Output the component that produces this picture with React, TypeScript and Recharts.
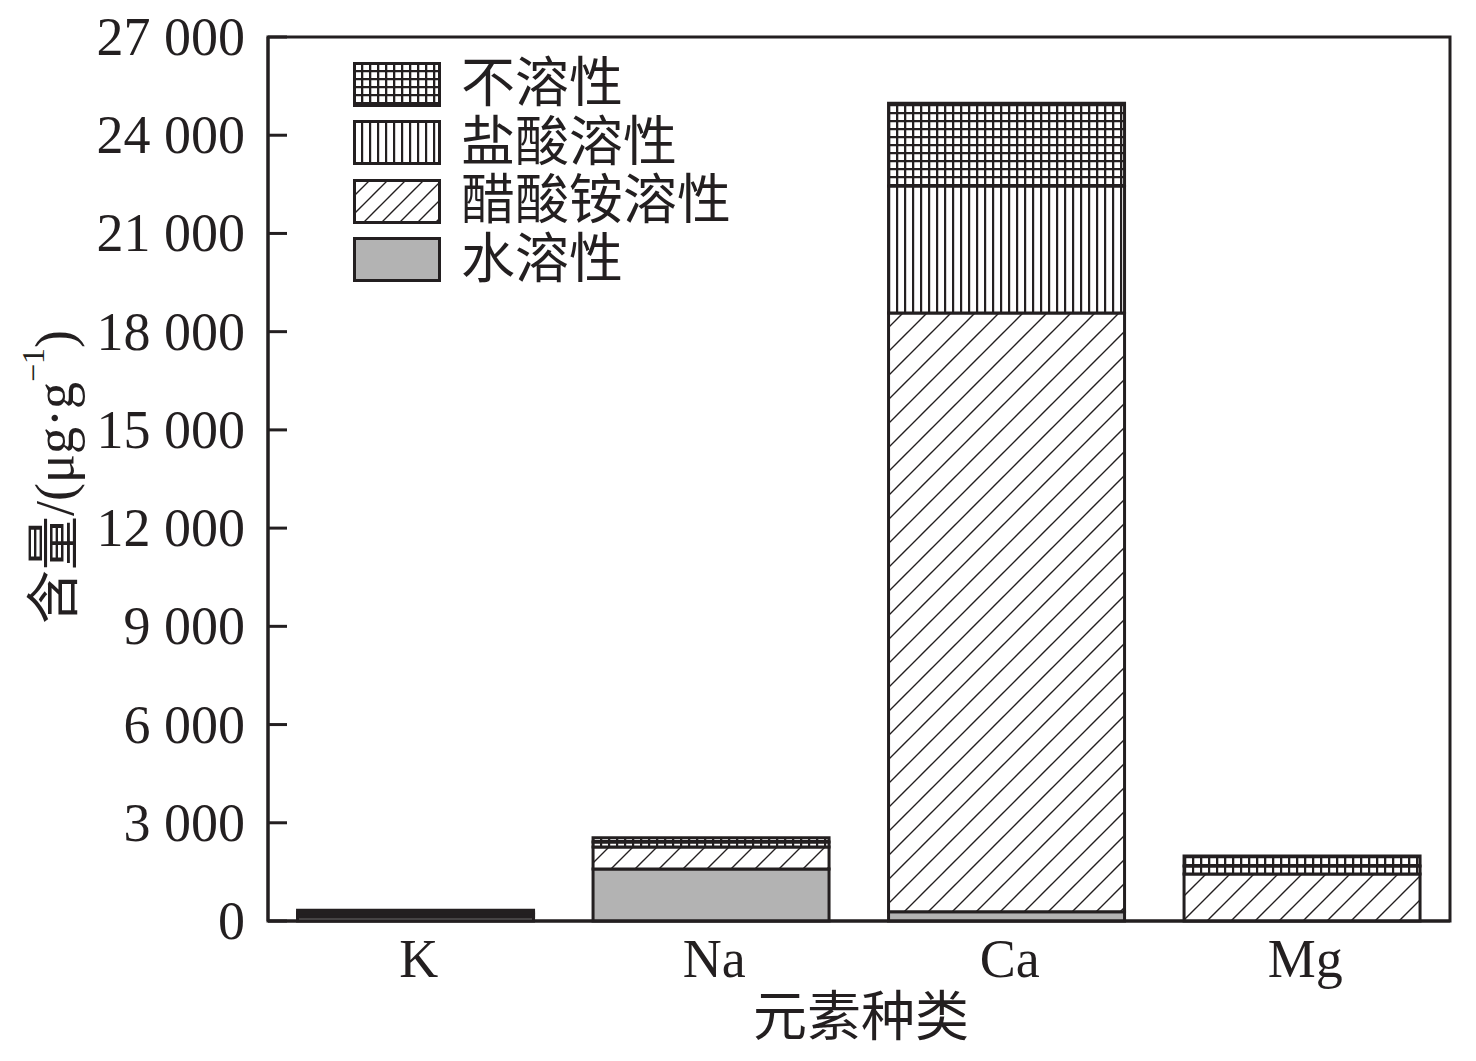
import React from 'react';
import { BarChart, Bar, XAxis, YAxis, Legend, Label, ReferenceArea } from 'recharts';

const categories = ['K', 'Na', 'Ca', 'Mg'];
const waterSoluble = [120, 1590, 280, 0];
const acetateSoluble = [70, 670, 18290, 1435];
const hclSoluble = [60, 150, 3880, 245];
const insoluble = [80, 130, 2530, 305];
const yTicks = [0, 3000, 6000, 9000, 12000, 15000, 18000, 21000, 24000, 27000];

const seriesKeys = ['water', 'acetate', 'hcl', 'insoluble'];
const seriesNames = ['水溶性', '醋酸铵溶性', '盐酸溶性', '不溶性'];
const seriesFills = ['#b3b3b3', 'url(#hatch)', 'url(#vlines)', 'url(#grid)'];
const legendFills = ['#b3b3b3', 'url(#hatchL)', 'url(#vlines)', 'url(#grid)'];

const data = categories.map((c, i) => ({
  name: c,
  water: waterSoluble[i],
  acetate: acetateSoluble[i],
  hcl: hclSoluble[i],
  insoluble: insoluble[i],
}));

const INK = '#231f20';
const FONT = "'Liberation Serif', 'Noto Sans CJK SC', serif";

const fmt = (v: number) => {
  const s = String(v);
  if (s.length <= 3) return s;
  return s.slice(0, s.length - 3) + ' ' + s.slice(s.length - 3);
};

const YTick = (props: any) => {
  const { x, y, payload } = props;
  return (
    <g>
      <line x1={x} x2={x + 19} y1={y} y2={y} stroke={INK} strokeWidth={3} />
      <text x={x - 23} y={y} textAnchor="end" dominantBaseline="central" fontSize={54} fontFamily={FONT} fill={INK}>
        {fmt(payload.value)}
      </text>
    </g>
  );
};

const XTick = (props: any) => {
  const { x, y, payload } = props;
  return (
    <text x={x + 3} y={y + 56} textAnchor="middle" fontSize={54} fontFamily={FONT} fill={INK}>
      {payload.value}
    </text>
  );
};

const YLabel = (props: any) => {
  const vb = props.viewBox || { x: 0, y: 0, width: 0, height: 0 };
  const cx = vb.x + 47;
  const cy = vb.y + vb.height / 2 - 2;
  return (
    <text
      x={cx}
      y={cy}
      transform={`rotate(-90 ${cx} ${cy})`}
      textAnchor="middle"
      dominantBaseline="central"
      fontSize={54}
      fontFamily={FONT}
      fill={INK}
    >
      含量/(μg·g
      <tspan fontSize={32} dy={-22}>−1</tspan>
      <tspan dy={22}>)</tspan>
    </text>
  );
};

const XLabel = (props: any) => {
  const vb = props.viewBox || { x: 0, y: 0, width: 0, height: 0 };
  return (
    <text x={vb.x + vb.width / 2 + 2} y={vb.y + vb.height - 17} textAnchor="middle" fontSize={54} fontFamily={FONT} fill={INK}>
      元素种类
    </text>
  );
};

const LegendContent = () => {
  const order = [3, 2, 1, 0];
  return (
    <div style={{ display: 'flex', flexDirection: 'column' }}>
      {order.map((i) => (
        <div key={i} style={{ display: 'flex', alignItems: 'center', height: 58.5 }}>
          <svg width={88} height={45} style={{ display: 'block' }}>
            <rect x={1.5} y={1.5} width={85} height={42} fill={legendFills[i]} stroke={INK} strokeWidth={3} />
          </svg>
          <span style={{ marginLeft: 20, fontSize: 54, fontFamily: FONT, color: INK, lineHeight: '58px', whiteSpace: 'nowrap' }}>
            {seriesNames[i]}
          </span>
        </div>
      ))}
    </div>
  );
};

export default function App() {
  return (
    <div style={{ width: 1460, height: 1045, position: 'relative' }}>
      <svg width={0} height={0} style={{ position: 'absolute' }}>
        <defs>
          <pattern id="grid" patternUnits="userSpaceOnUse" width={8} height={8}>
            <rect x={0} y={0} width={8} height={8} fill="#fff" />
            <path d="M0 1 H8 M1 0 V8" stroke={INK} strokeWidth={2.6} />
          </pattern>
          <pattern id="vlines" patternUnits="userSpaceOnUse" width={8} height={8}>
            <rect x={0} y={0} width={8} height={8} fill="#fff" />
            <path d="M1 0 V8" stroke={INK} strokeWidth={2.4} />
          </pattern>
          <pattern id="hatch" patternUnits="userSpaceOnUse" width={24} height={24}>
            <rect x={0} y={0} width={24} height={24} fill="#fff" />
            <path d="M-6 6 L6 -6 M0 24 L24 0 M18 30 L30 18" stroke={INK} strokeWidth={1.4} />
          </pattern>
          <pattern id="hatchL" patternUnits="userSpaceOnUse" width={18} height={18}>
            <rect x={0} y={0} width={18} height={18} fill="#fff" />
            <path d="M-4.5 4.5 L4.5 -4.5 M0 18 L18 0 M13.5 22.5 L22.5 13.5" stroke={INK} strokeWidth={1.4} />
          </pattern>
        </defs>
      </svg>
      <BarChart
        width={1460}
        height={1045}
        data={data}
        margin={{ top: 29, right: 18, left: 0, bottom: 0 }}
        barCategoryGap="10%"
      >
        <XAxis
          dataKey="name"
          height={132}
          axisLine={{ stroke: INK, strokeWidth: 3 }}
          tickLine={false}
          tickSize={0}
          tickMargin={0}
          tick={<XTick />}
          interval={0}
        >
          <Label content={<XLabel />} />
        </XAxis>
        <YAxis
          width={260}
          domain={[0, 27000]}
          ticks={yTicks}
          interval={0}
          axisLine={{ stroke: INK, strokeWidth: 3 }}
          tickLine={false}
          tickSize={0}
          tickMargin={0}
          tick={<YTick />}
        >
          <Label content={<YLabel />} />
        </YAxis>
        <Legend
          layout="vertical"
          align="center"
          verticalAlign="middle"
          content={<LegendContent />}
          wrapperStyle={{ left: 345, top: 47, width: 'auto' }}
        />
        {seriesKeys.map((k, i) => (
          <Bar
            key={k}
            dataKey={k}
            name={seriesNames[i]}
            stackId="a"
            fill={seriesFills[i]}
            stroke={INK}
            strokeWidth={3}
            isAnimationActive={false}
          />
        ))}
        <ReferenceArea y1={0} y2={27000} fill="none" fillOpacity={0} stroke={INK} strokeWidth={3} ifOverflow="visible" />
      </BarChart>
    </div>
  );
}
